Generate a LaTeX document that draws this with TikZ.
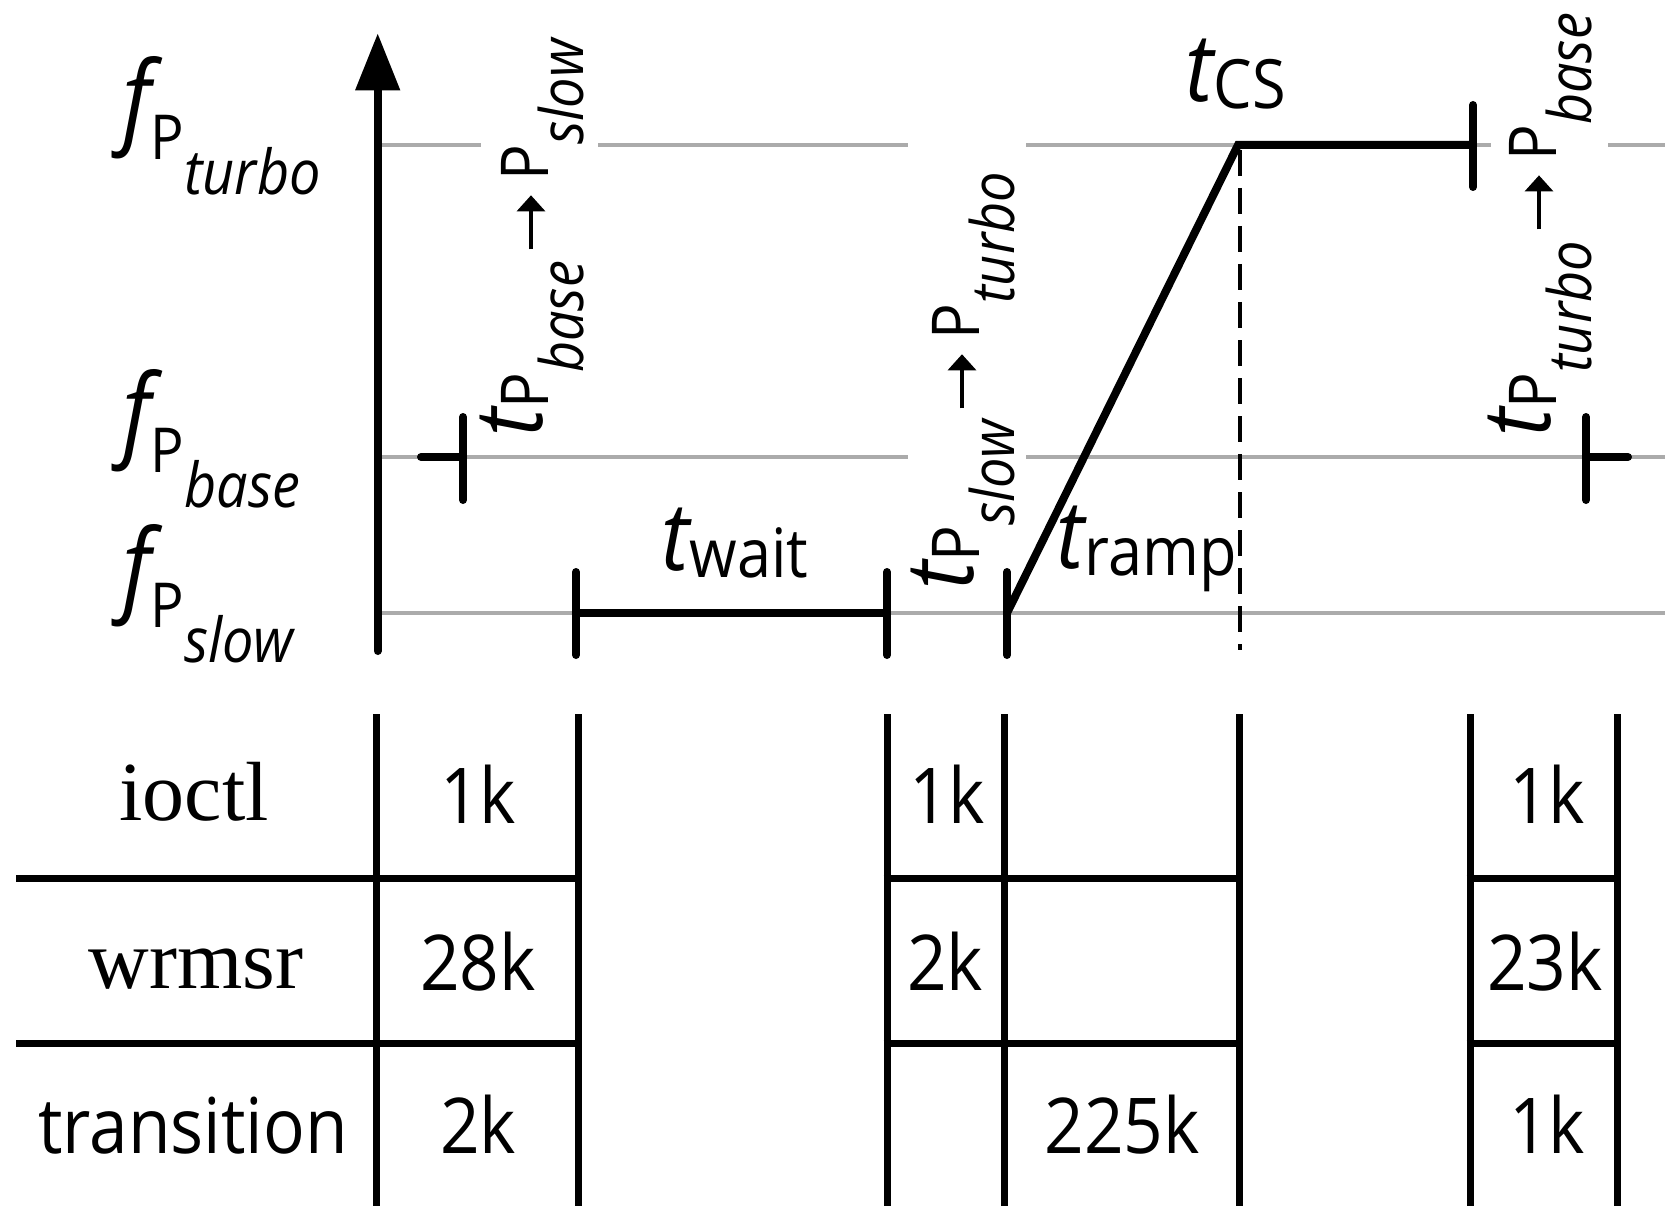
\documentclass[tikz,border=0pt]{standalone}
\usepackage{fontspec}
\setmainfont{Open Sans}[FakeStretch=0.9]
\newfontfamily\seriffam{Liberation Serif}
\usetikzlibrary{arrows.meta}
\definecolor{guide}{RGB}{171,171,171}
\newcommand{\fs}[1]{\fontsize{#1}{#1}\selectfont}
\newcommand{\tarrow}{\tikz[baseline=0pt,x=1pt,y=1pt]\draw[line width=3.3pt,black,-{Triangle[width=28pt,length=16pt]}] (0,17) -- (54,17);}
\newcommand{\flab}[1]{{\fs{102}\itshape f}\raisebox{-25pt}{\fs{62}P\raisebox{-35pt}{\fs{62}\itshape #1}}}
\newcommand{\tsub}[1]{{\fs{95}\itshape t}\raisebox{-7pt}{\fs{68}#1}}
\newcommand{\ttrans}[2]{{\fs{95}\itshape t}\raisebox{-6pt}{\fs{66}P\raisebox{-35pt}{\fs{60}\itshape #1}\hspace{10pt}\tarrow\hspace{13pt}P\raisebox{-35pt}{\fs{60}\itshape #2}}}
\tikzset{
  guideline/.style={draw=guide,line width=4pt},
  bar/.style={draw=black,line width=8pt,line cap=round},
  grid/.style={draw=black,line width=7pt},
  lbl/.style={inner sep=0pt,anchor=base west},
  cell/.style={inner sep=0pt,anchor=base,font=\fs{77}},
  rowlbl/.style={inner sep=0pt,anchor=base,font=\seriffam\fs{84}},
}
\begin{document}
\begin{tikzpicture}[x=1pt,y=-1pt]
\useasboundingbox[fill=white] (0,0) rectangle (1665,1206);
% guide lines
\draw[guideline] (378,145) -- (481,145);
\draw[guideline] (598,145) -- (908,145);
\draw[guideline] (1026,145) -- (1238,145);
\draw[guideline] (1473,145) -- (1491,145);
\draw[guideline] (1608,145) -- (1665,145);
\draw[guideline] (378,457) -- (908,457);
\draw[guideline] (1026,457) -- (1665,457);
\draw[guideline] (378,613) -- (1665,613);
% axis
\coordinate (axb) at (377.7,651);
\coordinate (axt) at (377.7,33.3);
\draw[line width=8pt,line cap=round,-{Triangle[width=43pt,length=57pt]}] (axb) -- (axt);
% base -> slow
\draw[bar] (421,457) -- (463,457);
\draw[bar] (463,417) -- (463,500);
% wait
\draw[bar] (576,572) -- (576,655);
\draw[bar] (576,613) -- (887,613);
\draw[bar] (887,572) -- (887,655);
% ramp
\draw[bar] (1007,572) -- (1007,655);
\coordinate (rs) at (1007,613);
\coordinate (rt) at (1238,145);
\coordinate (re) at (1473,145);
\draw[draw=black,line width=8pt,line cap=round,line join=miter] (rs) -- (rt) -- (re);
\draw[bar] (1473,105) -- (1473,187);
\draw[black,line width=3.8pt,dash pattern=on 26pt off 12pt] (1240,150) -- (1240,650);
% turbo -> base
\draw[bar] (1586,417) -- (1586,500);
\draw[bar] (1586,457) -- (1628,457);
% y labels
\node[lbl] (fturbo) at (122,135) {\flab{turbo}};
\node[lbl] (fbase) at (122,447) {\flab{base}};
\node[lbl] (fslow) at (122,602) {\flab{slow}};
% time labels
\node[lbl] (twait) at (661,570) {\tsub{wait}};
\node[lbl] (tramp) at (1056,568) {\tsub{ramp}};
\node[lbl] (tcs) at (1185,102) {\tsub{CS}};
\node[lbl,rotate=90] (tA) at (542,437) {\ttrans{base}{slow}};
\node[lbl,rotate=90] (tB) at (973,590) {\ttrans{slow}{turbo}};
\node[lbl,rotate=90] (tC) at (1550,437) {\ttrans{turbo}{base}};
% table
\foreach \x in {376,578,887,1004,1239,1470,1617}
  \draw[grid] (\x,714) -- (\x,1206);
\foreach \y in {878.5,1043.5} {
  \draw[grid] (16,\y) -- (581.5,\y);
  \draw[grid] (883.5,\y) -- (1242.5,\y);
  \draw[grid] (1466.5,\y) -- (1620.5,\y);
}
\node[rowlbl] (rio) at (194,820) {ioctl};
\node[rowlbl] (rwr) at (196,988) {wrmsr};
\node[cell] (rtr) at (193,1153) {transition};
\node[cell] (c11) at (478,823) {1k};
\node[cell] (c12) at (478,990) {28k};
\node[cell] (c13) at (478,1153) {2k};
\node[cell] (c21) at (947,823) {1k};
\node[cell] (c22) at (945,990) {2k};
\node[cell] (c33) at (1122,1153) {225k};
\node[cell] (c41) at (1547,823) {1k};
\node[cell] (c42) at (1545,990) {23k};
\node[cell] (c43) at (1547,1153) {1k};
\end{tikzpicture}
\end{document}
